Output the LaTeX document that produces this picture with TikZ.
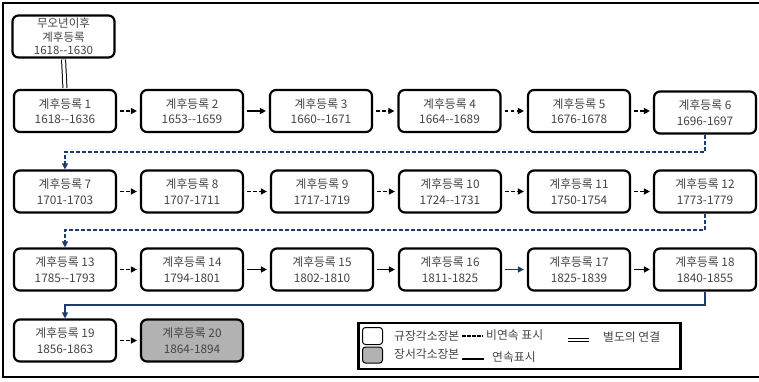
\documentclass[tikz,border=0pt]{standalone}
\usepackage{fontspec}
\newfontfamily\kr{Noto Sans CJK KR}
\usetikzlibrary{arrows.meta}
\definecolor{navy}{HTML}{1F3A6E}
\definecolor{txt}{HTML}{444444}
\definecolor{fillgrey}{HTML}{B2B2B2}
\newcommand\hh{-\kern0pt-}
\begin{document}
\begin{tikzpicture}[x=1pt,y=-1pt,
  rbox/.style={draw, line width=2.2pt, rounded corners=6pt, minimum width=102pt,
    minimum height=42pt, align=center, font=\kr\fontsize{11.8}{15.5}\selectfont,
    text=txt, inner sep=0pt, fill=white},
  tip/.style={-{Triangle[length=6pt,width=6pt]}},
  dsh/.style={tip, line width=1.4pt, dash pattern=on 3.5pt off 2.5pt, shorten <=3pt, shorten >=3pt},
  sld/.style={tip, line width=1.4pt, shorten <=3pt, shorten >=3pt},
  bdsh/.style={navy, line width=1.3pt, dash pattern=on 4pt off 2pt},
  bsld/.style={navy, line width=1.3pt},
  legtext/.style={anchor=west, inner sep=0pt, font=\kr\fontsize{11.8}{13}\selectfont, text=txt},
]
\useasboundingbox (0,0) rectangle (759,381);
% outer frame
\draw[line width=2pt] (759,3) -- (3,3) -- (3,377) -- (759,377);

% top box
\node[rbox, minimum height=42pt, font=\kr\fontsize{11.5}{13.5}\selectfont] (b0) at (63.5,36.5) {무오년이후\\계후등록\\1618\hh1630};

% row 1
\node[rbox] (b1) at (65,111) {계후등록 1\\1618\hh1636};
\node[rbox] (b2) at (192,111) {계후등록 2\\1653\hh1659};
\node[rbox] (b3) at (321,111) {계후등록 3\\1660\hh1671};
\node[rbox] (b4) at (449.5,111) {계후등록 4\\1664\hh1689};
\node[rbox] (b5) at (579,111) {계후등록 5\\1676-1678};
\node[rbox] (b6) at (705,112.5) {계후등록 6\\1696-1697};
% row 2
\node[rbox] (b7) at (65,191.5) {계후등록 7\\1701-1703};
\node[rbox] (b8) at (192,191.5) {계후등록 8\\1707-1711};
\node[rbox] (b9) at (322,191.5) {계후등록 9\\1717-1719};
\node[rbox] (b10) at (450,191.5) {계후등록 10\\1724\hh1731};
\node[rbox] (b11) at (579,191.5) {계후등록 11\\1750-1754};
\node[rbox] (b12) at (705,191.5) {계후등록 12\\1773-1779};
% row 3
\node[rbox] (b13) at (65,269.5) {계후등록 13\\1785\hh1793};
\node[rbox] (b14) at (192,269.5) {계후등록 14\\1794-1801};
\node[rbox] (b15) at (322,269.5) {계후등록 15\\1802-1810};
\node[rbox] (b16) at (450,269.5) {계후등록 16\\1811-1825};
\node[rbox] (b17) at (579,269.5) {계후등록 17\\1825-1839};
\node[rbox] (b18) at (705,269.5) {계후등록 18\\1840-1855};
% row 4
\node[rbox] (b19) at (65,340.5) {계후등록 19\\1856-1863};
\node[rbox, fill=fillgrey] (b20) at (192,340.5) {계후등록 20\\1864-1894};

% double link
\draw[double, line width=1pt, double distance=3pt, shorten <=1pt, shorten >=1pt] (b0.south) -- (b1.north);

% horizontal arrows
\draw[dsh] (b1) -- (b2);
\draw[sld] (b2) -- (b3);
\draw[dsh] (b3) -- (b4);
\draw[dsh] (b4) -- (b5);
\draw[dsh] (b5.east) -- (b5.east -| b6.west);
\draw[dsh] (b7) -- (b8);
\draw[dsh] (b8) -- (b9);
\draw[dsh] (b9) -- (b10);
\draw[dsh] (b10) -- (b11);
\draw[dsh] (b11) -- (b12);
\draw[dsh] (b13) -- (b14);
\draw[sld] (b14) -- (b15);
\draw[sld] (b15) -- (b16);
\draw[sld, navy] (b16) -- (b17);
\draw[sld] (b17) -- (b18);
\draw[dsh] (b19) -- (b20);

% row-to-row connectors
\draw[bdsh, tip] (b6.south) -- (b6.south |- 0,152) -| (b7.north);
\draw[bdsh, tip] (b12.south) -- (b12.south |- 0,230) -| (b13.north);
\draw[bsld, tip] (b18.south) -- (b18.south |- 0,305) -| (b19.north);

% legend
\node[draw, line width=2.5pt, minimum width=322pt, minimum height=46pt, inner sep=0pt] (leg) at (519.5,346) {};
\node[draw, line width=1pt, rounded corners=3pt, minimum width=20pt, minimum height=17pt, inner sep=0pt] (sw1) at (372.5,336) {};
\node[draw, line width=1pt, rounded corners=3pt, minimum width=20pt, minimum height=16pt, inner sep=0pt, fill=fillgrey] (sw2) at (372.5,355) {};
\node[legtext] (l1) at (394,336) {규장각소장본};
\node[legtext] (l2) at (394,354) {장서각소장본};
\coordinate (d1) at (462,336); \coordinate (d2) at (483,336);
\draw[line width=2pt, dash pattern=on 3.5pt off 1.5pt] (d1) -- (d2);
\node[legtext] (l3) at (486,335) {비연속 표시};
\coordinate (e1) at (568,339.5); \coordinate (e2) at (589,339.5);
\draw[double, line width=1pt, double distance=2pt] (e1) -- (e2);
\node[legtext] (l4) at (603,337) {별도의 연결};
\coordinate (s1) at (462,359); \coordinate (s2) at (484,359);
\draw[line width=1.3pt] (s1) -- (s2);
\node[legtext] (l5) at (492,357) {연속표시};
\end{tikzpicture}
\end{document}
